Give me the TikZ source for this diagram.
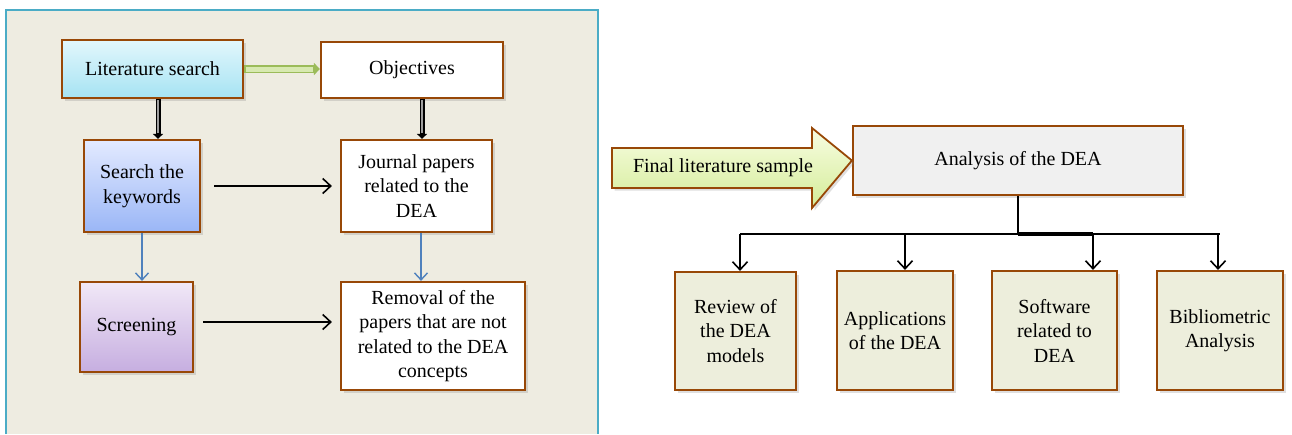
\documentclass[tikz,border=0pt]{standalone}
\usepackage{fontspec}
\setmainfont{Liberation Serif}
\usetikzlibrary{arrows.meta,shadows,calc}
\definecolor{brd}{HTML}{984807}
\definecolor{panel}{HTML}{EEECE1}
\definecolor{panelbrd}{HTML}{4BACC6}
\definecolor{litTop}{HTML}{E2F7FC}
\definecolor{litBot}{HTML}{A6E3F3}
\definecolor{skTop}{HTML}{E3EAFF}
\definecolor{skBot}{HTML}{9AB6F6}
\definecolor{scTop}{HTML}{F1E8F7}
\definecolor{scBot}{HTML}{C6AEE0}
\definecolor{arrTop}{HTML}{F8FDE2}
\definecolor{arrBot}{HTML}{D4EC98}
\definecolor{anaFill}{HTML}{F0F0F0}
\definecolor{leafFill}{HTML}{EDEEDC}
\definecolor{gOut}{HTML}{9BBB59}
\definecolor{gIn}{HTML}{D7E9B0}
\definecolor{blueArr}{HTML}{4F81BD}
\tikzset{
  box/.style={draw=brd, line width=2.2pt, rectangle, align=center, inner sep=2pt,
    font=\fontsize{20}{24.5}\selectfont,
    drop shadow={opacity=0.25, shadow xshift=2.5pt, shadow yshift=-2.5pt}},
  plain/.style={box, fill=white},
  tipb/.style={-{Straight Barb[length=8pt,width=15pt,line width=1.6pt]}, line width=1.8pt, black},
  tipblue/.style={-{Straight Barb[length=7pt,width=13pt,line width=1.4pt]}, line width=1.4pt, blueArr},
  dblout/.style={line width=5pt, black, -{Triangle[length=5pt,width=10pt]}},
  dblin/.style={line width=2.4pt, gray!75, shorten >=6pt, shorten <=1.2pt},
  grnout/.style={line width=8.5pt, gOut, -{Triangle[length=6pt,width=12pt]}},
  grnin/.style={line width=5pt, gIn, shorten >=7pt, shorten <=1.5pt},
}
\begin{document}
\begin{tikzpicture}[x=1pt,y=-1pt]
\useasboundingbox (0,0) rectangle (1292,434);
% left panel
\fill[panel] (6,10) rectangle (598,434);
\draw[panelbrd, line width=1.8pt] (6,434) -- (6,10) -- (598,10) -- (598,434);

% left nodes
\node[box, top color=litTop, bottom color=litBot, minimum width=181pt, minimum height=58pt] (lit) at (152.5,69) {Literature search};
\node[plain, minimum width=182pt, minimum height=56pt] (obj) at (412,70) {Objectives};
\node[box, top color=skTop, bottom color=skBot, minimum width=116pt, minimum height=92pt] (sk) at (142,186) {Search the\\keywords};
\node[plain, minimum width=151pt, minimum height=92pt] (jp) at (416.5,186) {Journal papers\\related to the\\DEA};
\node[box, top color=scTop, bottom color=scBot, minimum width=113pt, minimum height=90pt] (sc) at (136.5,327) {Screening};
\node[plain, minimum width=184pt, minimum height=108pt] (rm) at (433,336) {Removal of the\\papers that are not\\related to the DEA\\concepts};

% left connectors
\draw[grnout] (lit.east) -- (lit.east -| obj.west);
\draw[grnin] (lit.east) -- (lit.east -| obj.west);
\draw[dblout] ([xshift=5.5pt]lit.south) -- ([xshift=5.5pt]lit.south |- sk.north);
\draw[dblin] ([xshift=5.5pt]lit.south) -- ([xshift=5.5pt]lit.south |- sk.north);
\draw[dblout] ([xshift=10pt]obj.south) -- ([xshift=10pt]obj.south |- jp.north);
\draw[dblin] ([xshift=10pt]obj.south) -- ([xshift=10pt]obj.south |- jp.north);
\draw[tipb, shorten <=13pt, shorten >=8pt] (sk.east) -- (sk.east -| jp.west);
\draw[tipblue] (sk.south) -- (sk.south |- sc.north);
\draw[tipblue] ([xshift=4.5pt]jp.south) -- ([xshift=4.5pt]jp.south |- rm.north);
\draw[tipb, shorten <=9pt, shorten >=8pt] ([yshift=5pt]sc.east) -- ([yshift=5pt]sc.east -| rm.west);

% right side
\node[box, fill=anaFill, minimum width=330pt, minimum height=69pt] (ana) at (1018,160.5) {Analysis of the DEA};
\path[draw=brd, line width=1.8pt, top color=arrTop, bottom color=arrBot,
  drop shadow={opacity=0.25, shadow xshift=2.5pt, shadow yshift=-2.5pt}]
  (612,148) -- (812,148) -- (812,128) -- (ana.west) -- (812,208) -- (812,188) -- (612,188) -- cycle;
\node[font=\fontsize{20}{24.5}\selectfont] (fls) at (723,168) {Final literature sample};

\node[box, fill=leafFill, minimum width=121pt, minimum height=118pt] (rev) at (735.5,331) {Review of\\the DEA\\models};
\node[box, fill=leafFill, minimum width=116pt, minimum height=119pt] (app) at (895,330.5) {Applications\\of the DEA};
\node[box, fill=leafFill, minimum width=125pt, minimum height=119pt] (sw) at (1054.5,330.5) {Software\\related to\\DEA};
\node[box, fill=leafFill, minimum width=126pt, minimum height=119pt] (bib) at (1220,330.5) {Bibliometric\\Analysis};

\draw[line width=1.8pt] (ana.south) -- ++(0,38) coordinate (j);
\draw[line width=1.8pt] (j -| rev.north) ++(4.5,0) -- (j -| bib.north);
\draw[line width=3.6pt] (j) -- ([xshift=38.5pt]j -| sw.north);
\draw[tipb] ([xshift=4.5pt]j -| rev.north) -- ([xshift=4.5pt]rev.north);
\draw[tipb] ([xshift=10pt]j -| app.north) -- ([xshift=10pt]app.north);
\draw[tipb] ([xshift=38.5pt]j -| sw.north) -- ([xshift=38.5pt]sw.north);
\draw[tipb] ([xshift=-2pt]j -| bib.north) -- ([xshift=-2pt]bib.north);
\end{tikzpicture}
\end{document}
